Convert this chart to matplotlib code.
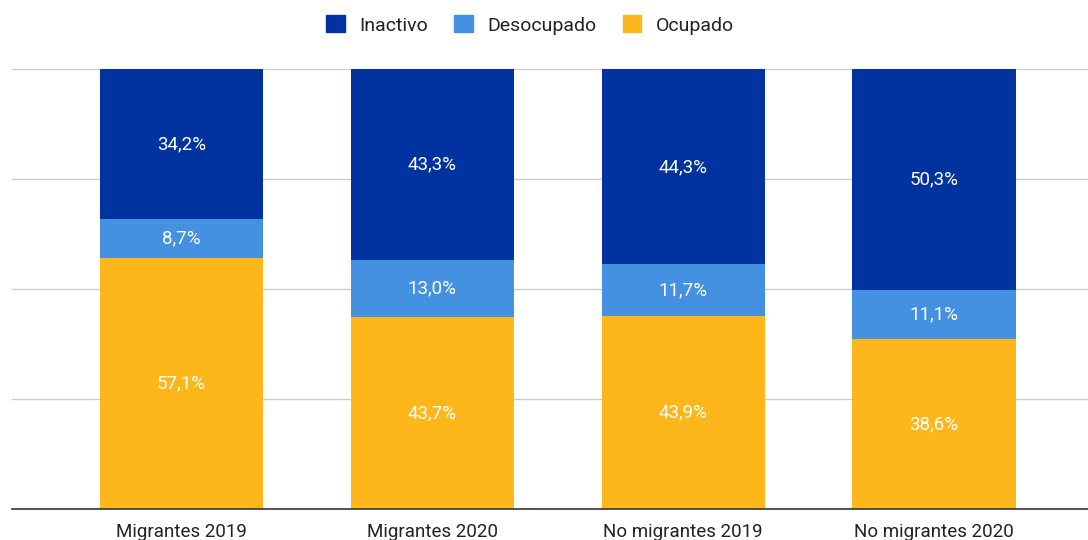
import numpy as np
import matplotlib.pyplot as plt
from matplotlib.patches import Patch

plt.rcParams['font.family'] = ['Roboto', 'DejaVu Sans']

categorias = ["Migrantes 2019", "Migrantes 2020", "No migrantes 2019", "No migrantes 2020"]
ocupado = [57.1, 43.7, 43.9, 38.6]
desocupado = [8.7, 13.0, 11.7, 11.1]
inactivo = [34.2, 43.3, 44.3, 50.3]

series = [("Ocupado", ocupado, "#FDB71A"),
          ("Desocupado", desocupado, "#4391E0"),
          ("Inactivo", inactivo, "#0033A0")]

fig = plt.figure(figsize=(10.88, 5.4), dpi=100)
ax = fig.add_axes([12 / 1088, 31 / 540, 1 - 12 / 1088, 440 / 540])

x = np.arange(len(categorias))
bottom = np.zeros(len(categorias))
for nombre, vals, color in series:
    vals = np.array(vals)
    ax.bar(x, vals, 0.65, bottom=bottom, color=color, zorder=3)
    for xi, b, v in zip(x, bottom, vals):
        ax.text(xi, b + v / 2, f"{v:.1f}%".replace(".", ","), ha="center", va="center",
                color="white", fontsize=13.5, zorder=4)
    bottom += vals

ax.set_xlim(-0.676, 3.614)
ax.set_ylim(0, 100)
ax.set_yticks([0, 25, 50, 75, 100])
ax.yaxis.grid(True, color="#cccccc", linewidth=1, zorder=0)
ax.tick_params(axis="y", left=False, labelleft=False)
ax.tick_params(axis="x", length=0, pad=10, labelsize=13.5, labelcolor="#222222")
ax.set_xticks(x)
ax.set_xticklabels(categorias)
for s in ["top", "right", "left"]:
    ax.spines[s].set_visible(False)
ax.spines["bottom"].set_color("#333333")
ax.spines["bottom"].set_linewidth(1.2)
ax.spines["bottom"].set_zorder(5)

handles = [Patch(color=c, label=n) for n, _, c in reversed(series)]
fig.legend(handles=handles, loc="center", bbox_to_anchor=(530 / 1088, 1 - 25 / 540),
           ncol=3, frameon=False, fontsize=14, handlelength=0.95, handleheight=0.95,
           columnspacing=1.35, handletextpad=0.75, labelcolor="#222222")

fig.savefig("out.png", dpi=100)
